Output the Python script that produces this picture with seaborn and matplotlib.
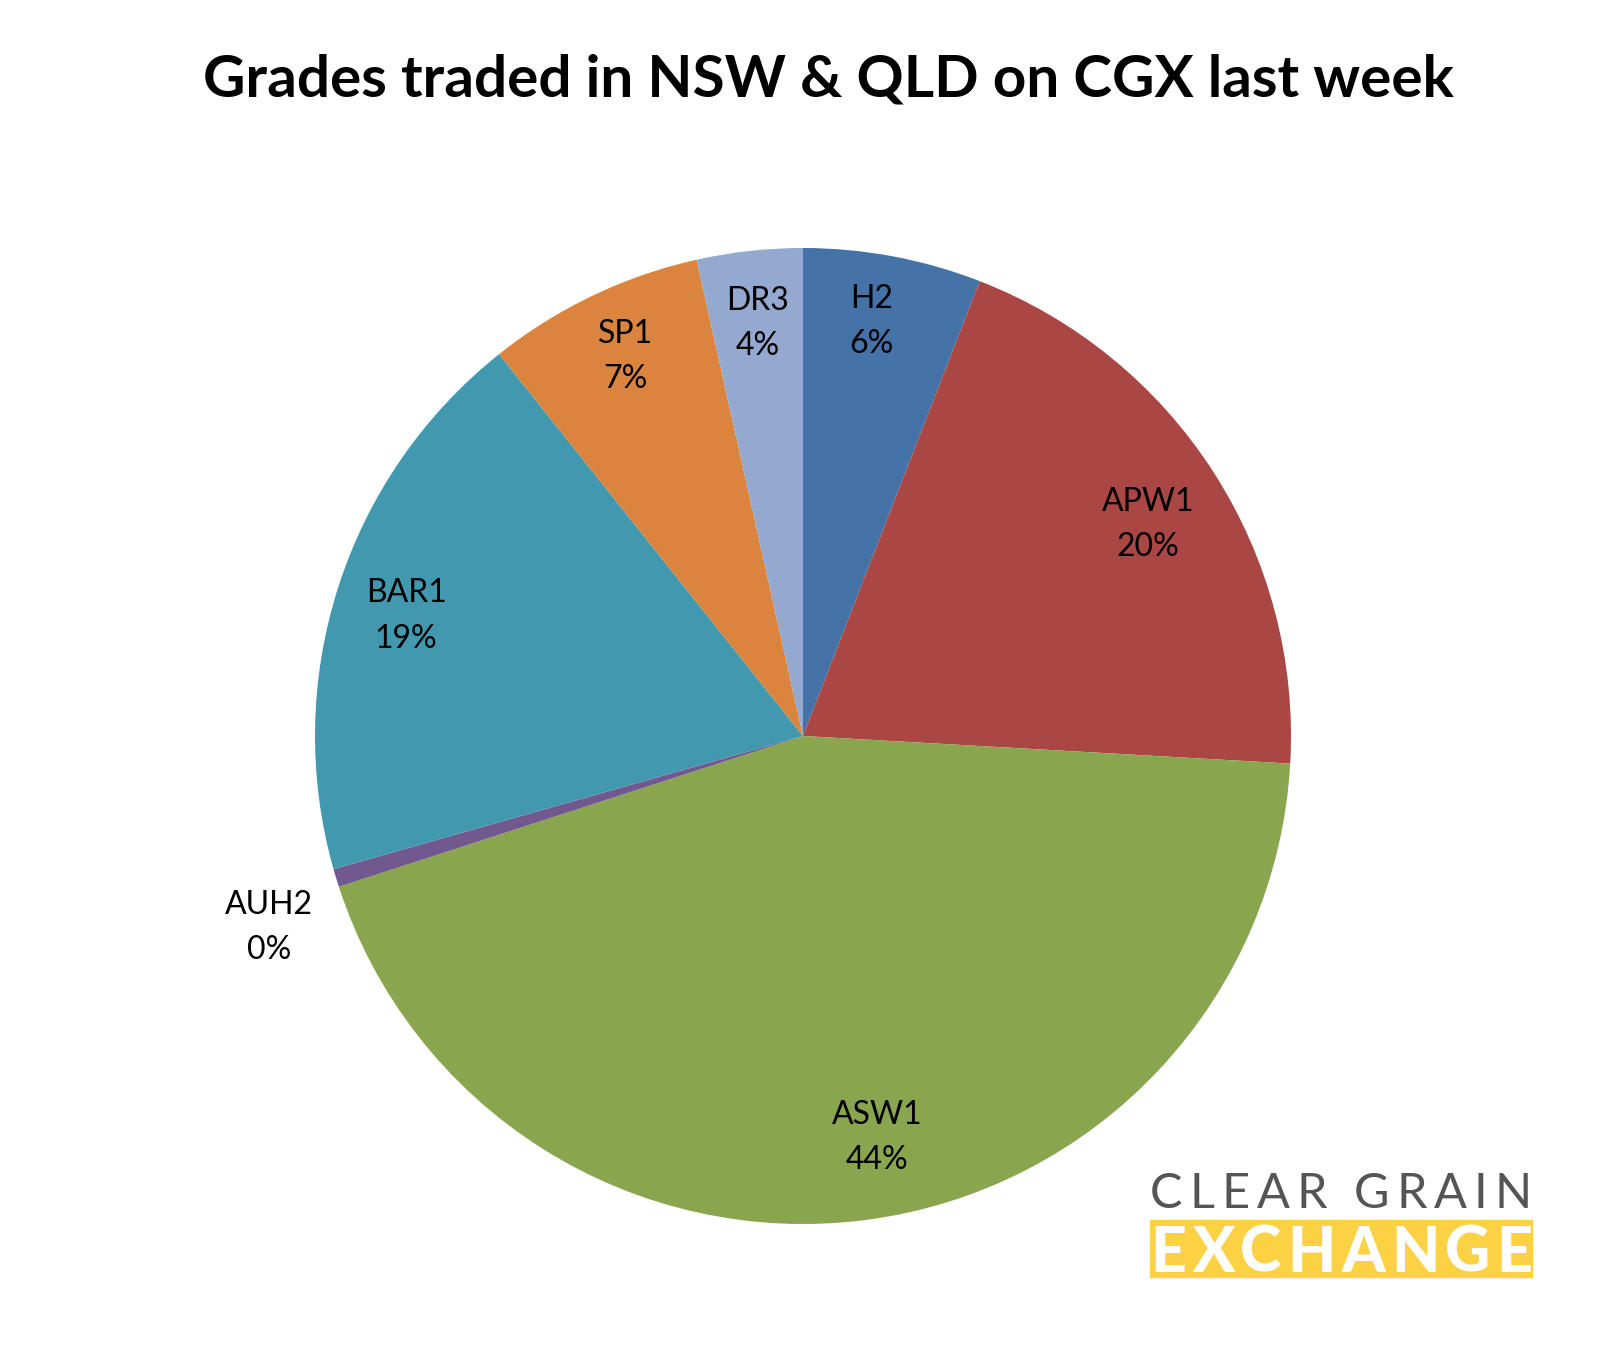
import numpy as np
import matplotlib.pyplot as plt
import seaborn as sns
from matplotlib.patches import Rectangle

# --------------------------
# Data
# --------------------------
grades = ["H2", "APW1", "ASW1", "AUH2", "BAR1", "SP1", "DR3"]
shares = [5.9, 20.0, 44.1, 0.6, 18.7, 7.2, 3.5]
pct_labels = ["6%", "20%", "44%", "0%", "19%", "7%", "4%"]
colors = ["#4572A7", "#AA4643", "#89A54E", "#71588F", "#4198AF", "#DB843D", "#93A9CF"]

# --------------------------
# Setup
# --------------------------
sns.set_theme(style="white")
plt.rcParams["font.family"] = ["Lato", "DejaVu Sans"]
palette = sns.color_palette(colors)

W, H = 1608, 1350
fig = plt.figure(figsize=(W / 100, H / 100), dpi=100)

cx, cy, r = 803, 736, 488
ax = fig.add_axes([(cx - r) / W, (H - cy - r) / H, 2 * r / W, 2 * r / H])
wedges, _ = ax.pie(shares, colors=palette, startangle=90, counterclock=False,
                   radius=1, wedgeprops=dict(linewidth=0))
ax.set_xlim(-1, 1)
ax.set_ylim(-1, 1)
ax.set_aspect("equal")
ax.axis("off")

# labels at slice middles, nudged a little like Excel places them
nudge = {"H2": (-8, 7), "APW1": (-4, -13), "ASW1": (21, 10), "AUH2": (12, -25),
         "BAR1": (-2, -7), "SP1": (1, 5), "DR3": (0, 0)}
for w, g, p in zip(wedges, grades, pct_labels):
    mid = np.deg2rad((w.theta1 + w.theta2) / 2)
    dist = 1.17 if g == "AUH2" else 0.85
    ax.annotate(f"{g}\n{p}", (dist * np.cos(mid), dist * np.sin(mid)),
                xytext=nudge[g], textcoords="offset pixels", annotation_clip=False,
                ha="center", va="center", fontsize=23, linespacing=1.63, color="black")

fig.text(828 / W, 1 - 80 / H, "Grades traded in NSW & QLD on CGX last week",
         ha="center", va="center", fontsize=42, fontweight="bold", color="black")


# --------------------------
# Logo (letter-spaced text)
# --------------------------
renderer = fig.canvas.get_renderer()


def spaced_text(s, x0, x1, base_y, **kw):
    # place characters one by one so the word fills x0..x1 (pixels)
    parts = [fig.text(0, 0, ch, va="baseline", ha="left", **kw) for ch in s]
    widths = [t.get_window_extent(renderer).width for t in parts]
    gap = (x1 - x0 - sum(widths)) / (len(s) - 1)
    x = x0
    for t, w in zip(parts, widths):
        t.set_position((x / W, 1 - base_y / H))
        x += w + gap


fig.patches.append(Rectangle((1150 / W, 1 - 1277 / H), 382 / W, 57 / H,
                             transform=fig.transFigure, color="#FCD144", zorder=0))
spaced_text("CLEAR GRAIN", 1150, 1532, 1208, fontsize=35, color="#555555")
spaced_text("EXCHANGE", 1150, 1532, 1272, fontsize=45, fontweight="black", color="white")

plt.savefig("out.png", dpi=100)
plt.close()
